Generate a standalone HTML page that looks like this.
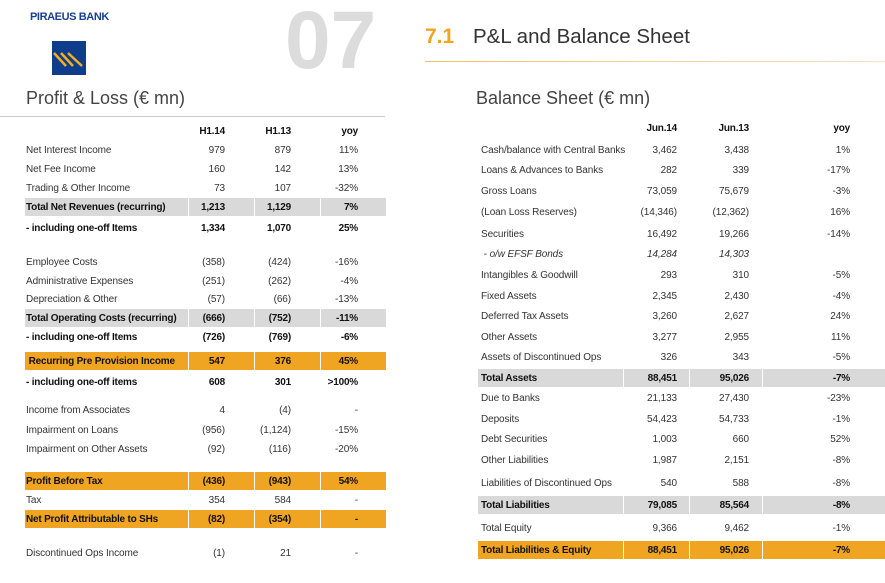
<!DOCTYPE html><html><head><meta charset="utf-8"><style>
body{margin:0;width:885px;height:583px;background:#fff;position:relative;overflow:hidden;font-family:"Liberation Sans",sans-serif;color:#333}
.a{position:absolute;white-space:nowrap}
.r{position:absolute;height:18px;line-height:19px;font-size:10px;letter-spacing:-0.1px}
.r span{position:absolute;top:0}
.b{font-weight:bold;color:#111;letter-spacing:-0.2px}
.g{background:#d9d9d9}.o{background:#f0a522}
.sep{position:absolute;top:0;width:1px;height:100%;background:#fff}
</style></head><body>
<div class="a" style="left:30px;top:11px;font-size:11px;font-weight:bold;color:#1a3f8f;letter-spacing:-0.4px">PIRAEUS BANK</div>
<svg class="a" style="left:52px;top:41px" width="34" height="34"><rect width="34" height="34" fill="#0f3d8c"/><g stroke="#f2b01e" stroke-width="2.5"><line x1="2" y1="12" x2="14" y2="25"/><line x1="9" y1="12" x2="21" y2="25"/><line x1="16" y1="12" x2="30" y2="25"/></g></svg>
<div class="a" style="left:285px;top:-6px;font-size:82px;font-weight:bold;color:#dcdcdc">07</div>
<div class="a" style="left:425px;top:25px;font-size:21px;color:#f0a522;font-weight:bold">7.1</div>
<div class="a" style="left:473px;top:25px;font-size:20.5px;color:#333">P&amp;L and Balance Sheet</div>
<div class="a" style="left:425px;top:61px;width:460px;height:1px;background:linear-gradient(90deg,#f0c070,#f6e2bc)"></div>
<div class="a" style="left:26px;top:88px;font-size:18px;color:#444">Profit &amp; Loss (€ mn)</div>
<div class="a" style="left:0;top:116px;width:385px;height:1px;background:#ccc"></div>
<div class="a" style="left:476px;top:88px;font-size:18px;color:#444">Balance Sheet (€ mn)</div>
<div id="L"></div><div id="R"></div>
<script>
function t(rows,x0,w,lx,cols,seps){let h='';for(const r of rows){const [y,l,a,b,c,cls]=r;h+=`<div class="r ${cls||''}" style="left:${x0}px;top:${y-9}px;width:${w}px">`;if(cls&&(cls.includes('g')||cls.includes('o')))for(const s of seps)h+=`<div class="sep" style="left:${s-x0}px"></div>`;h+=`<span style="left:${lx-x0}px">${l}</span>`;[a,b,c].forEach((v,i)=>{h+=`<span style="right:${x0+w-cols[i]}px">${v}</span>`});h+='</div>'}return h}
const L=[[131,'','H1.14','H1.13','yoy','b'],[150,'Net Interest Income','979','879','11%'],[169,'Net Fee Income','160','142','13%'],[188,'Trading &amp; Other Income','73','107','-32%'],[207,'Total Net Revenues (recurring)','1,213','1,129','7%','b g'],[228,' - including one-off Items','1,334','1,070','25%','b'],[262,'Employee Costs','(358)','(424)','-16%'],[281,'Administrative Expenses','(251)','(262)','-4%'],[299,'Depreciation &amp; Other','(57)','(66)','-13%'],[318,'Total Operating Costs (recurring)','(666)','(752)','-11%','b g'],[337,' - including one-off Items','(726)','(769)','-6%','b'],[361,'&nbsp;Recurring Pre Provision Income','547','376','45%','b o'],[382,' - including one-off items','608','301','>100%','b'],[410,'Income from Associates','4','(4)','-'],[430,'Impairment on Loans','(956)','(1,124)','-15%'],[449,'Impairment on Other Assets','(92)','(116)','-20%'],[481,'Profit Before Tax','(436)','(943)','54%','b o'],[500,'Tax','354','584','-'],[519,'Net Profit Attributable to SHs','(82)','(354)','-','b o'],[553,'Discontinued Ops Income','(1)','21','-']];
const R=[[128,'','Jun.14','Jun.13','yoy','b'],[150,'Cash/balance with Central Banks','3,462','3,438','1%'],[170,'Loans &amp; Advances to Banks','282','339','-17%'],[191,'Gross Loans','73,059','75,679','-3%'],[212,'(Loan Loss Reserves)','(14,346)','(12,362)','16%'],[234,'Securities','16,492','19,266','-14%'],[254,'&nbsp;- <i>o/w EFSF Bonds</i>','<i>14,284</i>','<i>14,303</i>',''],[275,'Intangibles &amp; Goodwill','293','310','-5%'],[296,'Fixed Assets','2,345','2,430','-4%'],[316,'Deferred Tax Assets','3,260','2,627','24%'],[337,'Other Assets','3,277','2,955','11%'],[357,'Assets of Discontinued Ops','326','343','-5%'],[378,'Total Assets','88,451','95,026','-7%','b g'],[398,'Due to Banks','21,133','27,430','-23%'],[419,'Deposits','54,423','54,733','-1%'],[439,'Debt Securities','1,003','660','52%'],[460,'Other Liabilities','1,987','2,151','-8%'],[483,'Liabilities of Discontinued Ops','540','588','-8%'],[505,'Total Liabilities','79,085','85,564','-8%','b g'],[528,'Total Equity','9,366','9,462','-1%'],[550,'Total Liabilities &amp; Equity','88,451','95,026','-7%','b o']];
document.getElementById('L').innerHTML=t(L,25,361,26,[225,291,358],[188,254,320]);
document.getElementById('R').innerHTML=t(R,478,407,481,[677,749,850],[623,689,762]);
</script></body></html>
